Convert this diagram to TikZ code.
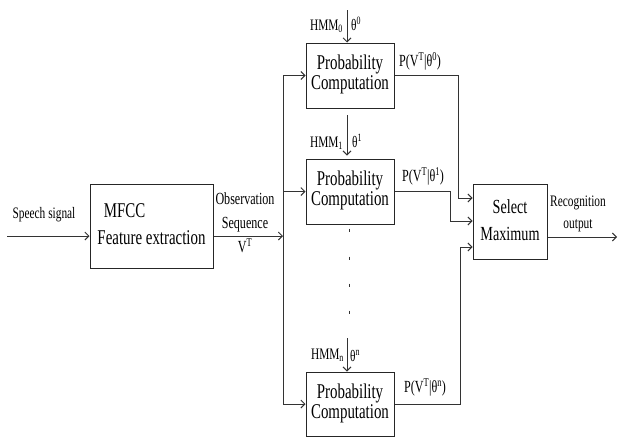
\documentclass[tikz,border=0pt]{standalone}
\usepackage{fontspec}
\setmainfont{Liberation Serif}
\usepackage{graphicx}
\usetikzlibrary{arrows.meta}
\newcommand{\nar}[1]{\scalebox{0.71}[1]{\begin{tabular}{@{}c@{}}#1\end{tabular}}}
\newcommand{\fs}[2]{\fontsize{#1}{#2}\selectfont}
\begin{document}
\begin{tikzpicture}[x=1pt,y=-1pt,
  ln/.style={line width=0.9pt, draw=black!80},
  arr/.style={ln, -{Straight Barb[length=4pt,width=8pt]}},
  boxnode/.style={draw=black!85, line width=1pt, inner sep=0pt},
  lbl/.style={inner sep=0pt}]
\useasboundingbox (0,0) rectangle (618,437);

% boxes
\node[boxnode, minimum width=123pt, minimum height=84pt] (mfcc) at (151.5,226)
  {\fs{21}{27}\nar{MFCC\hspace*{76pt}\\Feature extraction}};
\node[boxnode, minimum width=88pt, minimum height=65pt] (p0) at (350,75.5)
  {\fs{21}{20}\nar{Probability\\Computation}};
\node[boxnode, minimum width=88pt, minimum height=65pt] (p1) at (350,191.5)
  {\fs{21}{20}\nar{Probability\\Computation}};
\node[boxnode, minimum width=88pt, minimum height=64pt] (p2) at (350,404)
  {\fs{21}{20}\nar{Probability\\Computation}};
\node[boxnode, minimum width=74pt, minimum height=75pt] (sel) at (510,221.5)
  {\fs{20}{27}\nar{Select\\Maximum}};

% coordinates
\coordinate (sig) at (7,236);
\coordinate (bus) at (283,236);
\coordinate (out) at (617,237);
\coordinate (k0) at (458,198);
\coordinate (k1) at (450,221);
\coordinate (k2) at (460,247);
\coordinate (h0) at (347,10);
\coordinate (h1) at (347,115);
\coordinate (hn) at (347,338);

% connectors
\draw[arr] (sig) -- (sig -| mfcc.west);
\draw[arr] (mfcc.east |- sig) -- (bus);
\draw[ln] (bus |- p0.west) -- (bus |- p2.west);
\draw[arr] (bus |- p0.west) -- (p0.west);
\draw[arr] (bus |- p1.west) -- (p1.west);
\draw[arr] (bus |- p2.west) -- (p2.west);
\draw[arr] (p0.east) -| (k0) -- (k0 -| sel.west);
\draw[arr] (p1.east) -| (k1) -- (k1 -| sel.west);
\draw[arr] (p2.east) -| (k2) -- (k2 -| sel.west);
\draw[arr] (sel.east |- out) -- (out);
\draw[arr] (h0) -- (h0 |- p0.north);
\draw[arr, shorten >=3pt] (h1) -- (h1 |- p1.north);
\draw[arr] (hn) -- (hn |- p2.north);

% dots
\foreach \yy in {230,258,285,312}
  \draw[line width=0.8pt, black!80] (349,\yy-1.5) -- (349,\yy+1.5);

% labels
\node[lbl] (ls) at (44,215) {\fs{16}{16}\nar{Speech signal}};
\node[lbl] (lo) at (245,223.5) {\fs{17}{24}\nar{Observation\\Sequence\\V\textsuperscript{T}}};
\node[lbl] (lr) at (578,213) {\fs{16}{22}\nar{Recognition\\output}};
\node[lbl, anchor=east] (m0) at (343,27) {\fs{16}{16}\nar{HMM\textsubscript{0}}};
\node[lbl, anchor=west] (t0) at (351,26) {\fs{16}{16}\nar{θ\textsuperscript{0}}};
\node[lbl, anchor=east] (m1) at (343,144) {\fs{16}{16}\nar{HMM\textsubscript{1}}};
\node[lbl, anchor=west] (t1) at (352,143) {\fs{16}{16}\nar{θ\textsuperscript{1}}};
\node[lbl, anchor=east] (mn) at (344,356) {\fs{16}{16}\nar{HMM\textsubscript{n}}};
\node[lbl, anchor=west] (tn) at (350,358) {\fs{16}{16}\nar{θ\textsuperscript{n}}};
\node[lbl] (q0) at (420,62) {\fs{17}{17}\nar{P(V\textsuperscript{T}|θ\textsuperscript{0})}};
\node[lbl] (q1) at (423,177) {\fs{17}{17}\nar{P(V\textsuperscript{T}|θ\textsuperscript{1})}};
\node[lbl] (qn) at (425,388) {\fs{17}{17}\nar{P(V\textsuperscript{T}|θ\textsuperscript{n})}};
\end{tikzpicture}
\end{document}
